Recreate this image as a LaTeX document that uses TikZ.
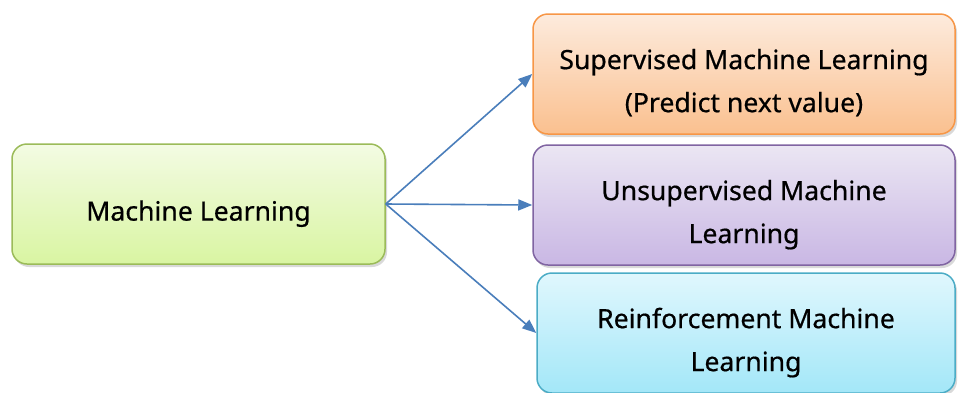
\documentclass[tikz,border=0pt]{standalone}
\usepackage{fontspec}
\setmainfont{Noto Sans}[BoldFont=Noto Sans, BoldFeatures={FakeBold=0.6}]
\usetikzlibrary{arrows.meta,shadows}
\definecolor{mlfillT}{HTML}{F3FBE3}
\definecolor{mlfillB}{HTML}{D9F5A2}
\definecolor{mlline}{HTML}{9BBB59}
\definecolor{sufillT}{HTML}{FDEBDD}
\definecolor{sufillB}{HTML}{FAC08F}
\definecolor{suline}{HTML}{F79646}
\definecolor{unfillT}{HTML}{EBE6F3}
\definecolor{unfillB}{HTML}{C9B7E4}
\definecolor{unline}{HTML}{8064A2}
\definecolor{refillT}{HTML}{E0F7FD}
\definecolor{refillB}{HTML}{A3E7F8}
\definecolor{reline}{HTML}{4BACC6}
\definecolor{arr}{HTML}{4A7EBB}
\newcommand{\lowtext}[1]{\raisebox{-8pt}[\height][\depth]{\begin{tabular}{@{}c@{}}#1\end{tabular}}}
\begin{document}
\begin{tikzpicture}[x=1pt,y=-1pt,
  box/.style={rectangle, rounded corners=15pt, line width=1.5pt, align=center,
    inner sep=0pt, font=\fontsize{26.6}{43}\selectfont\bfseries,
    drop shadow={shadow xshift=2pt, shadow yshift=-3pt, opacity=0.25, fill=black!60}},
  conn/.style={draw=arr, line width=1.6pt, -{Triangle[length=14pt,width=11pt]}}]
\useasboundingbox (0,0) rectangle (958,392);
\node[box, draw=mlline, top color=mlfillT, bottom color=mlfillB,
  minimum width=373pt, minimum height=120pt] (ml) at (198.5,204) {\lowtext{Machine Learning}};
\node[box, draw=suline, top color=sufillT, bottom color=sufillB,
  minimum width=422pt, minimum height=120pt] (su) at (744,74) {\lowtext{Supervised Machine Learning\\(Predict next value)}};
\node[box, draw=unline, top color=unfillT, bottom color=unfillB,
  minimum width=422pt, minimum height=120pt] (un) at (744,205) {\lowtext{Unsupervised Machine\\Learning}};
\node[box, draw=reline, top color=refillT, bottom color=refillB,
  minimum width=418pt, minimum height=120pt] (re) at (746,333) {\lowtext{Reinforcement Machine\\Learning}};
\draw[conn] (ml.east) -- (su.west);
\draw[conn] (ml.east) -- (un.west);
\draw[conn] (ml.east) -- (re.west);
\end{tikzpicture}
\end{document}
